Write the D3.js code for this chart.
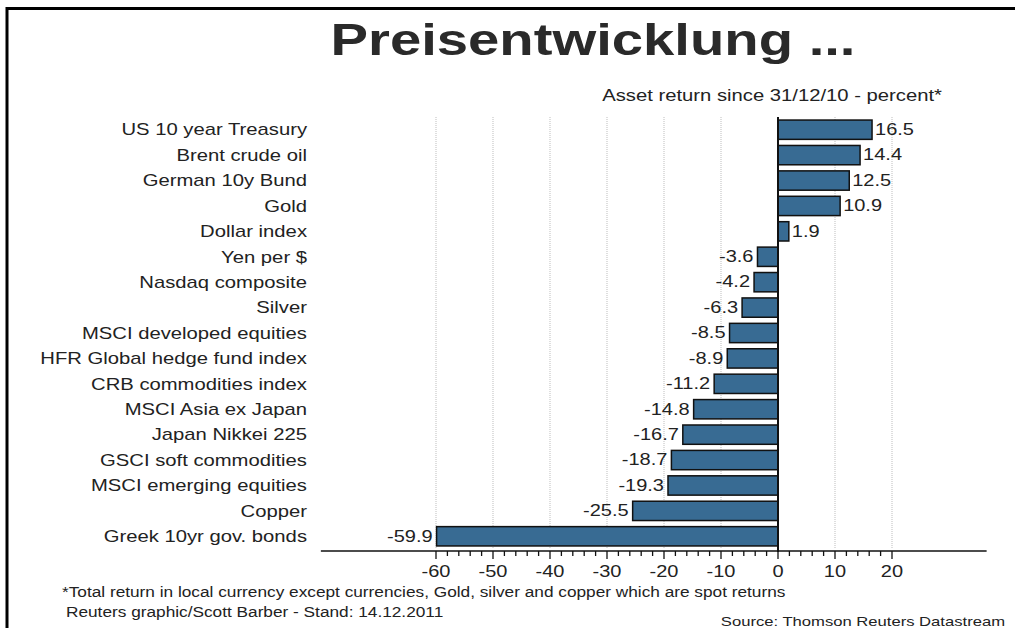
<!DOCTYPE html>
<html><head><meta charset="utf-8">
<script src="https://cdn.jsdelivr.net/npm/d3@7"></script>
<style>
html,body{margin:0;padding:0;background:#fff;}
svg{display:block;font-family:"Liberation Sans",Arial,sans-serif;}
</style></head>
<body>
<svg id="c" width="1015" height="628"></svg>
<script>
const categories = ["US 10 year Treasury","Brent crude oil","German 10y Bund","Gold","Dollar index","Yen per $","Nasdaq composite","Silver","MSCI developed equities","HFR Global hedge fund index","CRB commodities index","MSCI Asia ex Japan","Japan Nikkei 225","GSCI soft commodities","MSCI emerging equities","Copper","Greek 10yr gov. bonds"];
const values = [16.5,14.4,12.5,10.9,1.9,-3.6,-4.2,-6.3,-8.5,-8.9,-11.2,-14.8,-16.7,-18.7,-19.3,-25.5,-59.9];
const valueLabels = ["16.5","14.4","12.5","10.9","1.9","-3.6","-4.2","-6.3","-8.5","-8.9","-11.2","-14.8","-16.7","-18.7","-19.3","-25.5","-59.9"];
const majorTicks = [-60,-50,-40,-30,-20,-10,0,10,20];
const tickLabels = ["-60","-50","-40","-30","-20","-10","0","10","20"];
const titleText = "Preisentwicklung ...";
const subtitleText = "Asset return since 31/12/10 - percent*";
const footnoteText = "*Total return in local currency except currencies, Gold, silver and copper which are spot returns";
const creditText = "Reuters graphic/Scott Barber - Stand: 14.12.2011";
const sourceText = "Source: Thomson Reuters Datastream";

const SX = 1.25;
const svg = d3.select("#c");
const x = d3.scaleLinear().domain([-60,20]).range([436,892]);
const y = d3.scaleBand().domain(categories).range([117,549]).paddingInner(0.24).paddingOuter(0.12);

function txt(g, s, px, py, size, anchor, opts={}) {
  return g.append("text")
    .attr("transform", `translate(${px},${py}) scale(${SX},1)`)
    .attr("text-anchor", anchor)
    .attr("font-size", size)
    .attr("font-weight", opts.bold ? "bold" : "normal")
    .attr("fill", opts.fill || "#222")
    .attr("dominant-baseline", opts.baseline || "auto")
    .text(s);
}

// border
svg.append("path").attr("d","M7,628 V8.5 H1015").attr("fill","none").attr("stroke","#000").attr("stroke-width",3);

// title and subtitle
txt(svg, titleText, 593, 55, 45, "middle", {bold:true, fill:"#2a2a2a"});
txt(svg, subtitleText, 942, 101, 16.2, "end", {fill:"#222"});

// gridlines
const minorTicks = d3.range(-60, 21, 2);
svg.append("g").selectAll("line").data(majorTicks.filter(d=>d!==0)).join("line")
  .attr("x1", d=>x(d)).attr("x2", d=>x(d)).attr("y1",117).attr("y2",549)
  .attr("stroke","#bdbdbd").attr("stroke-width",1).attr("stroke-dasharray","1,1");

// bars
svg.append("g").selectAll("rect").data(values).join("rect")
  .attr("x", d=>x(Math.min(0,d)))
  .attr("y", (d,i)=>y(categories[i]))
  .attr("width", d=>Math.abs(x(d)-x(0)))
  .attr("height", y.bandwidth())
  .attr("fill","#386b93").attr("stroke","#111").attr("stroke-width",1.5);

// zero line
svg.append("line").attr("x1",x(0)).attr("x2",x(0)).attr("y1",117).attr("y2",552)
  .attr("stroke","#111").attr("stroke-width",2);

// category labels
const lg = svg.append("g");
categories.forEach((c,i)=>{
  txt(lg, c, 307, y(c)+y.bandwidth()/2, 16.2, "end", {baseline:"central"});
});

// value labels
const vg = svg.append("g");
values.forEach((v,i)=>{
  const cy = y(categories[i])+y.bandwidth()/2;
  if (v>=0) txt(vg, valueLabels[i], x(v)+3, cy, 16, "start", {baseline:"central"});
  else txt(vg, valueLabels[i], x(v)-4, cy, 16, "end", {baseline:"central"});
});

// x axis
const axY = 551;
svg.append("line").attr("x1", x(-80.2)).attr("x2", x(36.6)).attr("y1",axY).attr("y2",axY)
  .attr("stroke","#111").attr("stroke-width",1.5);
svg.append("g").selectAll("line").data(minorTicks).join("line")
  .attr("x1", d=>x(d)).attr("x2", d=>x(d)).attr("y1",axY).attr("y2", d=> d%10===0 ? axY+8 : axY+5)
  .attr("stroke","#111").attr("stroke-width",1.3);
const tg = svg.append("g");
majorTicks.forEach((t,i)=>{
  txt(tg, tickLabels[i], x(t), 577, 16, "middle");
});

// footer
txt(svg, footnoteText, 62, 597, 13.8, "start", {fill:"#222"});
txt(svg, creditText, 66, 617, 13.8, "start", {fill:"#222"});
txt(svg, sourceText, 1005, 626, 13.3, "end", {fill:"#222"});
</script>
</body></html>
